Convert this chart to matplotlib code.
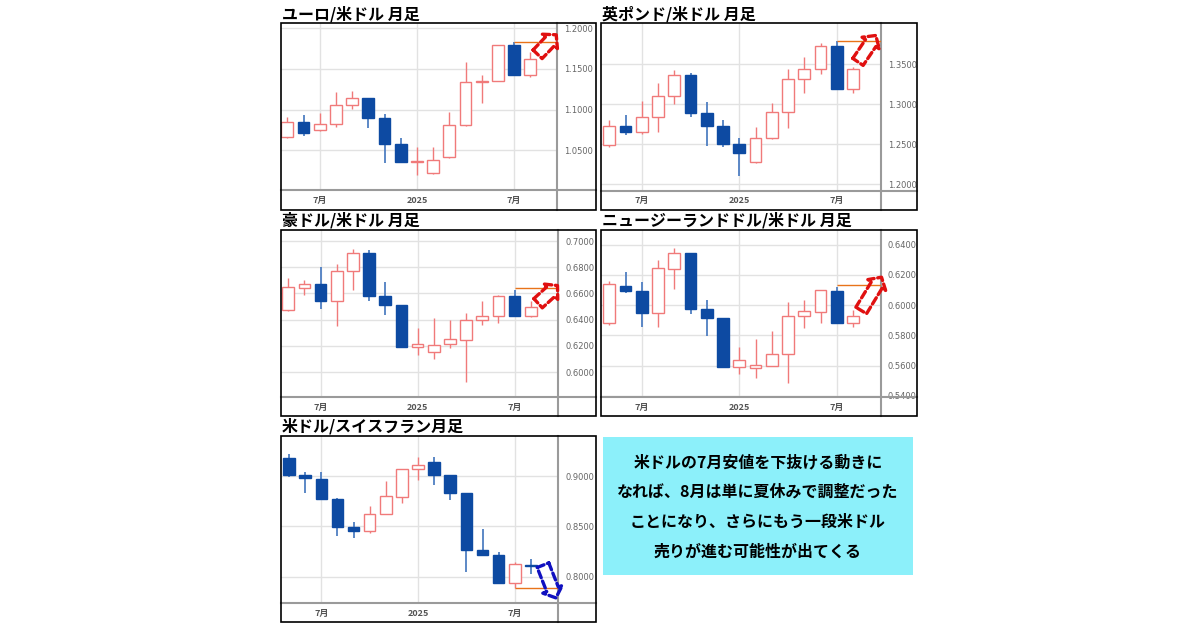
import numpy as np
import matplotlib
matplotlib.use('Agg')
import matplotlib.pyplot as plt
from matplotlib.patches import Rectangle, FancyArrowPatch

plt.rcParams['font.family'] = ['Noto Sans CJK JP', 'DejaVu Sans']

# monthly candles, May 2024 .. Aug 2025
months = ['2024-05', '2024-06', '2024-07', '2024-08', '2024-09', '2024-10', '2024-11', '2024-12',
          '2025-01', '2025-02', '2025-03', '2025-04', '2025-05', '2025-06', '2025-07', '2025-08']
tick_months = ['2024-07', '2025-01', '2025-07']
tick_labels = ['7月', '2025', '7月']

eur_open = [1.0668, 1.0850, 1.0750, 1.0822, 1.1052, 1.1146, 1.0890, 1.0578, 1.0354, 1.0225, 1.0410, 1.0812, 1.1340, 1.1357, 1.1795, 1.1426]
eur_high = [1.0914, 1.0934, 1.0955, 1.1210, 1.1225, 1.1148, 1.0950, 1.0645, 1.0540, 1.0533, 1.0965, 1.1590, 1.1426, 1.1800, 1.1836, 1.1705]
eur_low = [1.0656, 1.0676, 1.0730, 1.0791, 1.1008, 1.0779, 1.0340, 1.0345, 1.0197, 1.0210, 1.0400, 1.0800, 1.1078, 1.1350, 1.1420, 1.1398]
eur_close = [1.0850, 1.0710, 1.0822, 1.1052, 1.1146, 1.0890, 1.0578, 1.0354, 1.0362, 1.0380, 1.0812, 1.1340, 1.1355, 1.1795, 1.1426, 1.1620]

gbp_open = [1.2490, 1.2733, 1.2650, 1.2846, 1.3108, 1.3367, 1.2896, 1.2729, 1.2504, 1.2275, 1.2575, 1.2900, 1.3320, 1.3446, 1.3729, 1.3196]
gbp_high = [1.2800, 1.2860, 1.3042, 1.3263, 1.3430, 1.3388, 1.3033, 1.2804, 1.2575, 1.2713, 1.3013, 1.3438, 1.3588, 1.3770, 1.3790, 1.3471]
gbp_low = [1.2460, 1.2620, 1.2629, 1.2658, 1.3000, 1.2838, 1.2483, 1.2471, 1.2108, 1.2262, 1.2570, 1.2708, 1.3138, 1.3380, 1.3190, 1.3138]
gbp_close = [1.2733, 1.2650, 1.2846, 1.3108, 1.3367, 1.2896, 1.2729, 1.2504, 1.2388, 1.2575, 1.2900, 1.3320, 1.3446, 1.3729, 1.3196, 1.3442]

aud_open = [0.6473, 0.6645, 0.6675, 0.6545, 0.6770, 0.6908, 0.6580, 0.6510, 0.6190, 0.6152, 0.6215, 0.6245, 0.6400, 0.6430, 0.6580, 0.6424]
aud_high = [0.6715, 0.6705, 0.6800, 0.6825, 0.6940, 0.6935, 0.6690, 0.6515, 0.6335, 0.6410, 0.6395, 0.6447, 0.6540, 0.6585, 0.6626, 0.6545]
aud_low = [0.6465, 0.6590, 0.6478, 0.6348, 0.6625, 0.6540, 0.6435, 0.6185, 0.6130, 0.6097, 0.6187, 0.5922, 0.6357, 0.6372, 0.6420, 0.6420]
aud_close = [0.6651, 0.6670, 0.6545, 0.6770, 0.6908, 0.6580, 0.6510, 0.6190, 0.6213, 0.6205, 0.6250, 0.6400, 0.6430, 0.6580, 0.6424, 0.6499]

nzd_open = [0.5879, 0.6130, 0.6092, 0.5947, 0.6238, 0.6343, 0.5974, 0.5912, 0.5594, 0.5588, 0.5598, 0.5677, 0.5929, 0.5958, 0.6095, 0.5885]
nzd_high = [0.6162, 0.6222, 0.6156, 0.6300, 0.6376, 0.6345, 0.6035, 0.5918, 0.5726, 0.5775, 0.5830, 0.6023, 0.6031, 0.6100, 0.6118, 0.5969]
nzd_low = [0.5872, 0.6080, 0.5858, 0.5855, 0.6107, 0.5942, 0.5799, 0.5594, 0.5543, 0.5517, 0.5598, 0.5488, 0.5848, 0.5885, 0.5881, 0.5858]
nzd_close = [0.6140, 0.6092, 0.5951, 0.6244, 0.6343, 0.5974, 0.5918, 0.5594, 0.5638, 0.5603, 0.5677, 0.5928, 0.5964, 0.6099, 0.5881, 0.5929]

chf_open = [0.9185, 0.9017, 0.8977, 0.8778, 0.8493, 0.8454, 0.8626, 0.8798, 0.9076, 0.9142, 0.9017, 0.8838, 0.8262, 0.8215, 0.7934, 0.8118]
chf_high = [0.9225, 0.9043, 0.9043, 0.8785, 0.8546, 0.8705, 0.8954, 0.9076, 0.9192, 0.9192, 0.9017, 0.8838, 0.8474, 0.8248, 0.8149, 0.8175]
chf_low = [0.8993, 0.8838, 0.8778, 0.8407, 0.8381, 0.8437, 0.8620, 0.8738, 0.8967, 0.8917, 0.8762, 0.8050, 0.8205, 0.7934, 0.7884, 0.8023]
chf_close = [0.9017, 0.8983, 0.8778, 0.8493, 0.8460, 0.8626, 0.8805, 0.9076, 0.9109, 0.9017, 0.8838, 0.8262, 0.8215, 0.7934, 0.8122, 0.8110]

note_lines = ['米ドルの7月安値を下抜ける動きに',
              'なれば、8月は単に夏休みで調整だった',
              'ことになり、さらにもう一段米ドル',
              '売りが進む可能性が出てくる']

W, H = 1200, 630
RED = '#f07a7a'
BLUE = '#0d4aa2'
BLUE_WICK = '#4f7fc2'
AXIS_GRAY = '#9a9a9a'

fig = plt.figure(figsize=(12, 6.3), dpi=100)


def panel(frame, axis_x, base_y, xlim, ylim, yticks, title, o, hi, lo, c, level, arrow, arrow_color):
    fl, ft, fr, fb = frame
    ax = fig.add_axes([fl / W, 1 - base_y / H, (axis_x - fl) / W, (base_y - ft) / H])
    x = np.arange(len(months))
    o, hi, lo, c = map(np.asarray, (o, hi, lo, c))
    up = c >= o
    ax.vlines(x[up], lo[up], hi[up], color=RED, lw=1, zorder=2)
    ax.vlines(x[~up], lo[~up], hi[~up], color=BLUE_WICK, lw=1.3, zorder=2)
    bot = np.minimum(o, c)
    hgt = np.abs(c - o)
    ax.bar(x[up], hgt[up], 0.72, bottom=bot[up], facecolor='white', edgecolor=RED, lw=1, zorder=3)
    ax.bar(x[~up], hgt[~up], 0.72, bottom=bot[~up], facecolor=BLUE, edgecolor=BLUE, lw=1, zorder=3)

    ax.set_xlim(*xlim)
    ax.set_ylim(*ylim)
    ax.set_xticks([months.index(m) for m in tick_months])
    ax.set_xticklabels(tick_labels, fontweight='bold')
    ax.set_yticks(yticks)
    ax.set_yticklabels([f'{v:.4f}' for v in yticks], fontfamily='DejaVu Sans')
    ax.yaxis.tick_right()
    ax.tick_params(axis='y', length=0, pad=5, labelsize=6, labelcolor='#666666')
    ax.tick_params(axis='x', length=0, pad=4, labelsize=6.5, labelcolor='#555555')
    ax.grid(True, color='#e2e2e2', lw=1)
    ax.set_axisbelow(True)
    for s in ax.spines.values():
        s.set_visible(False)

    # axis line on the right, baseline at the bottom
    ax.plot([1, 1], [-(fb - base_y) / (base_y - ft), 1], transform=ax.transAxes,
            color=AXIS_GRAY, lw=1.5, clip_on=False, zorder=4)
    ax.plot([0, (fr - fl) / (axis_x - fl)], [0, 0], transform=ax.transAxes,
            color=AXIS_GRAY, lw=1.5, clip_on=False, zorder=4)

    # July reference level
    ax.hlines(level, months.index('2025-07'), xlim[1], color='#e8731a', lw=1, zorder=4)

    arr = FancyArrowPatch(arrow[0], arrow[1],
                          arrowstyle='simple,head_length=0.55,head_width=1.25,tail_width=0.75',
                          mutation_scale=12, shrinkA=0, shrinkB=0, fc='none', ec=arrow_color,
                          lw=2.4, ls=(0, (2.2, 1.1)), clip_on=False, zorder=6)
    ax.add_patch(arr)

    fig.add_artist(Rectangle((fl / W, 1 - fb / H), (fr - fl) / W, (fb - ft) / H,
                             transform=fig.transFigure, fill=False, ec='black', lw=1.2))
    fig.text((fl + 1) / W, 1 - (ft - 1) / H, title, fontsize=11.5, fontweight='bold',
             ha='left', va='bottom')
    return ax


panel((281, 23, 596, 210), 556.7, 190, (-0.39, 16.63), (1.001, 1.2065),
      [1.05, 1.10, 1.15, 1.20], 'ユーロ/米ドル 月足',
      eur_open, eur_high, eur_low, eur_close, eur_high[14],
      ((15.45, 1.168), (16.6, 1.192)), '#e01010')

panel((601, 23, 917, 210), 880.7, 190.7, (-0.51, 16.7), (1.192, 1.4016),
      [1.20, 1.25, 1.30, 1.35], '英ポンド/米ドル 月足',
      gbp_open, gbp_high, gbp_low, gbp_close, gbp_high[14],
      ((15.3, 1.353), (16.4, 1.386)), '#e01010')

panel((281, 230, 596, 416), 558.3, 397.3, (-0.45, 16.7), (0.5807, 0.7084),
      [0.60, 0.62, 0.64, 0.66, 0.68, 0.70], '豪ドル/米ドル 月足',
      aud_open, aud_high, aud_low, aud_close, aud_high[14] + 0.0015,
      ((15.45, 0.6525), (16.65, 0.666)), '#e01010')

panel((601, 230, 917, 416), 880.7, 397.3, (-0.51, 16.7), (0.5391, 0.6497),
      [0.54, 0.56, 0.58, 0.60, 0.62, 0.64], 'ニュージーランドドル/米ドル 月足',
      nzd_open, nzd_high, nzd_low, nzd_close, nzd_high[14] + 0.0015,
      ((15.5, 0.5965), (16.75, 0.6185)), '#e01010')

panel((281, 436, 596, 622), 558.3, 603.3, (-0.5, 16.7), (0.7736, 0.940),
      [0.80, 0.85, 0.90], '米ドル/スイスフラン月足',
      chf_open, chf_high, chf_low, chf_close, chf_low[14],
      ((15.75, 0.8115), (16.55, 0.7790)), '#1010c0')

# note box
bx0, by0, bx1, by1 = 603, 437, 913, 575
fig.add_artist(Rectangle((bx0 / W, 1 - by1 / H), (bx1 - bx0) / W, (by1 - by0) / H,
                         transform=fig.transFigure, fc='#8cf0fa', ec='none'))
for i, line in enumerate(note_lines):
    fig.text((bx0 + bx1) / 2 / W, 1 - (462 + 30 * i) / H, line, fontsize=11.5,
             fontweight='bold', ha='center', va='center')

fig.savefig('out.png', dpi=100)
